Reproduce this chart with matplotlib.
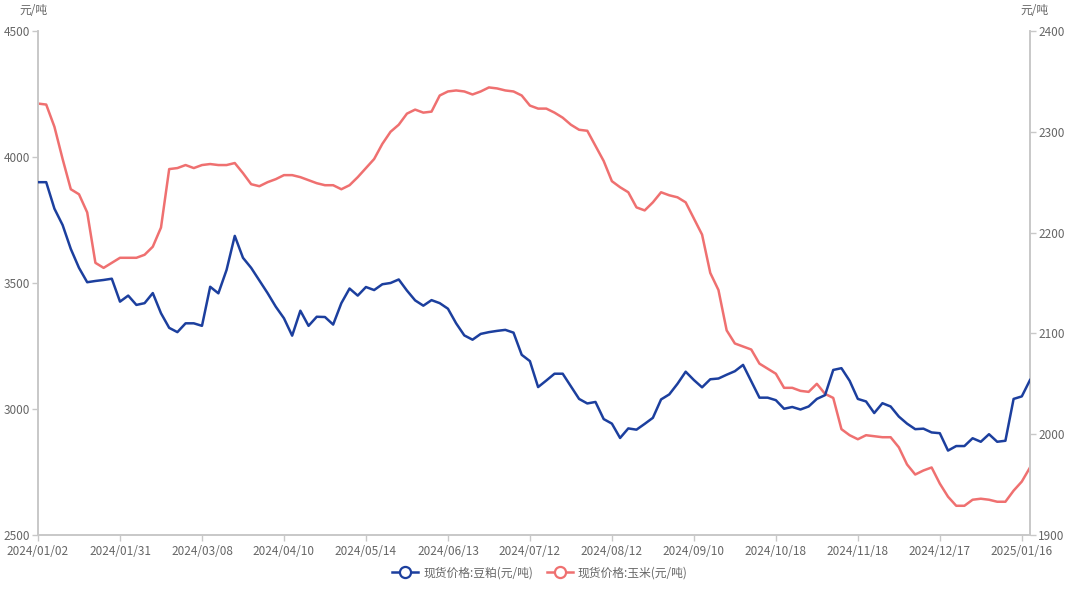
import matplotlib
matplotlib.use('Agg')
import matplotlib.pyplot as plt
from matplotlib.lines import Line2D

plt.rcParams['font.family'] = ['Noto Sans CJK SC', 'DejaVu Sans']

# 现货价格:豆粕 (元/吨), 左轴
doupo = [3900, 3900, 3795, 3730, 3635, 3560, 3503, 3508, 3512, 3517,
         3426, 3450, 3413, 3420, 3460, 3380, 3322, 3305, 3340, 3340,
         3330, 3485, 3459, 3552, 3687, 3600, 3560, 3510, 3460, 3406,
         3360, 3291, 3390, 3330, 3366, 3365, 3335, 3420, 3478, 3450,
         3484, 3472, 3495, 3500, 3514, 3470, 3431, 3410, 3432, 3420,
         3398, 3340, 3292, 3275, 3298, 3305, 3310, 3314, 3303, 3215,
         3190, 3087, 3113, 3140, 3140, 3090, 3040, 3022, 3028, 2960,
         2942, 2885, 2923, 2918, 2941, 2965, 3038, 3058, 3100, 3148,
         3115, 3086, 3118, 3121, 3136, 3150, 3175, 3110, 3045, 3045,
         3035, 3001, 3008, 2998, 3010, 3040, 3055, 3155, 3162, 3112,
         3040, 3030, 2984, 3023, 3010, 2970, 2942, 2920, 2922, 2907,
         2904, 2835, 2853, 2853, 2884, 2870, 2900, 2870, 2874, 3040,
         3050, 3115]

# 现货价格:玉米 (元/吨), 右轴
yumi = [2328, 2327, 2305, 2273, 2243, 2238, 2220, 2170, 2165, 2170,
        2175, 2175, 2175, 2178, 2186, 2205, 2263, 2264, 2267, 2264,
        2267, 2268, 2267, 2267, 2269, 2259, 2248, 2246, 2250, 2253,
        2257, 2257, 2255, 2252, 2249, 2247, 2247, 2243, 2247, 2255,
        2264, 2273, 2288, 2300, 2307, 2318, 2322, 2319, 2320, 2336,
        2340, 2341, 2340, 2337, 2340, 2344, 2343, 2341, 2340, 2336,
        2326, 2323, 2323, 2319, 2314, 2307, 2302, 2301, 2286, 2271,
        2251, 2245, 2240, 2225, 2222, 2230, 2240, 2237, 2235, 2230,
        2214, 2198, 2160, 2143, 2103, 2090, 2087, 2084, 2070, 2065,
        2060, 2046, 2046, 2043, 2042, 2050, 2040, 2036, 2005, 1999,
        1995, 1999, 1998, 1997, 1997, 1987, 1970, 1960, 1964, 1967,
        1951, 1938, 1929, 1929, 1935, 1936, 1935, 1933, 1933, 1944,
        1953, 1967]

tick_labels = ['2024/01/02', '2024/01/31', '2024/03/08', '2024/04/10',
               '2024/05/14', '2024/06/13', '2024/07/12', '2024/08/12',
               '2024/09/10', '2024/10/18', '2024/11/18', '2024/12/17',
               '2025/01/16']

blue = '#1c3f9e'
red = '#ef7070'
axis_col = '#c8c8c8'
text_col = '#666666'

x = list(range(len(doupo)))

fig = plt.figure(figsize=(10.8, 5.9), dpi=100)
ax = fig.add_axes([0.0352, 0.0932, 0.9185, 0.8543])
ax2 = ax.twinx()

ax.plot(x, doupo, color=blue, lw=1.8, zorder=3)
ax2.plot(x, yumi, color=red, lw=1.8, zorder=2)

ax.set_xlim(0, len(x) - 1)
ax.set_ylim(2500, 4500)
ax2.set_ylim(1900, 2400)
ax.set_yticks([2500, 3000, 3500, 4000, 4500])
ax2.set_yticks([1900, 2000, 2100, 2200, 2300, 2400])
ax.set_xticks(list(range(0, len(x), 10)))
ax.set_xticklabels(tick_labels)

for a in (ax, ax2):
    a.spines['top'].set_visible(False)
    for s in ('left', 'right', 'bottom'):
        a.spines[s].set_color(axis_col)
        a.spines[s].set_linewidth(1.2)
    a.tick_params(colors=text_col, labelsize=8.5, length=4, width=1,
                  pad=2)
    a.tick_params(axis='both', color=axis_col)
ax.tick_params(axis='x', pad=3)

ax.set_zorder(ax2.get_zorder() + 1)
ax.patch.set_visible(False)

fig.text(0.031, 0.982, '元/吨', ha='center', va='center', fontsize=8.5, color=text_col)
fig.text(0.958, 0.982, '元/吨', ha='center', va='center', fontsize=8.5, color=text_col)

handles = [Line2D([], [], color=blue, lw=1.8, marker='o', markersize=8,
                  markerfacecolor='white', markeredgewidth=1.6),
           Line2D([], [], color=red, lw=1.8, marker='o', markersize=8,
                  markerfacecolor='white', markeredgewidth=1.6)]
fig.legend(handles, ['现货价格:豆粕(元/吨)', '现货价格:玉米(元/吨)'],
           loc='center', bbox_to_anchor=(0.5, 0.029), ncol=2, frameon=False,
           fontsize=8.5, labelcolor=text_col, handlelength=2.2,
           columnspacing=1.2, handletextpad=0.4)

fig.savefig('out.png', dpi=100, facecolor='white')
